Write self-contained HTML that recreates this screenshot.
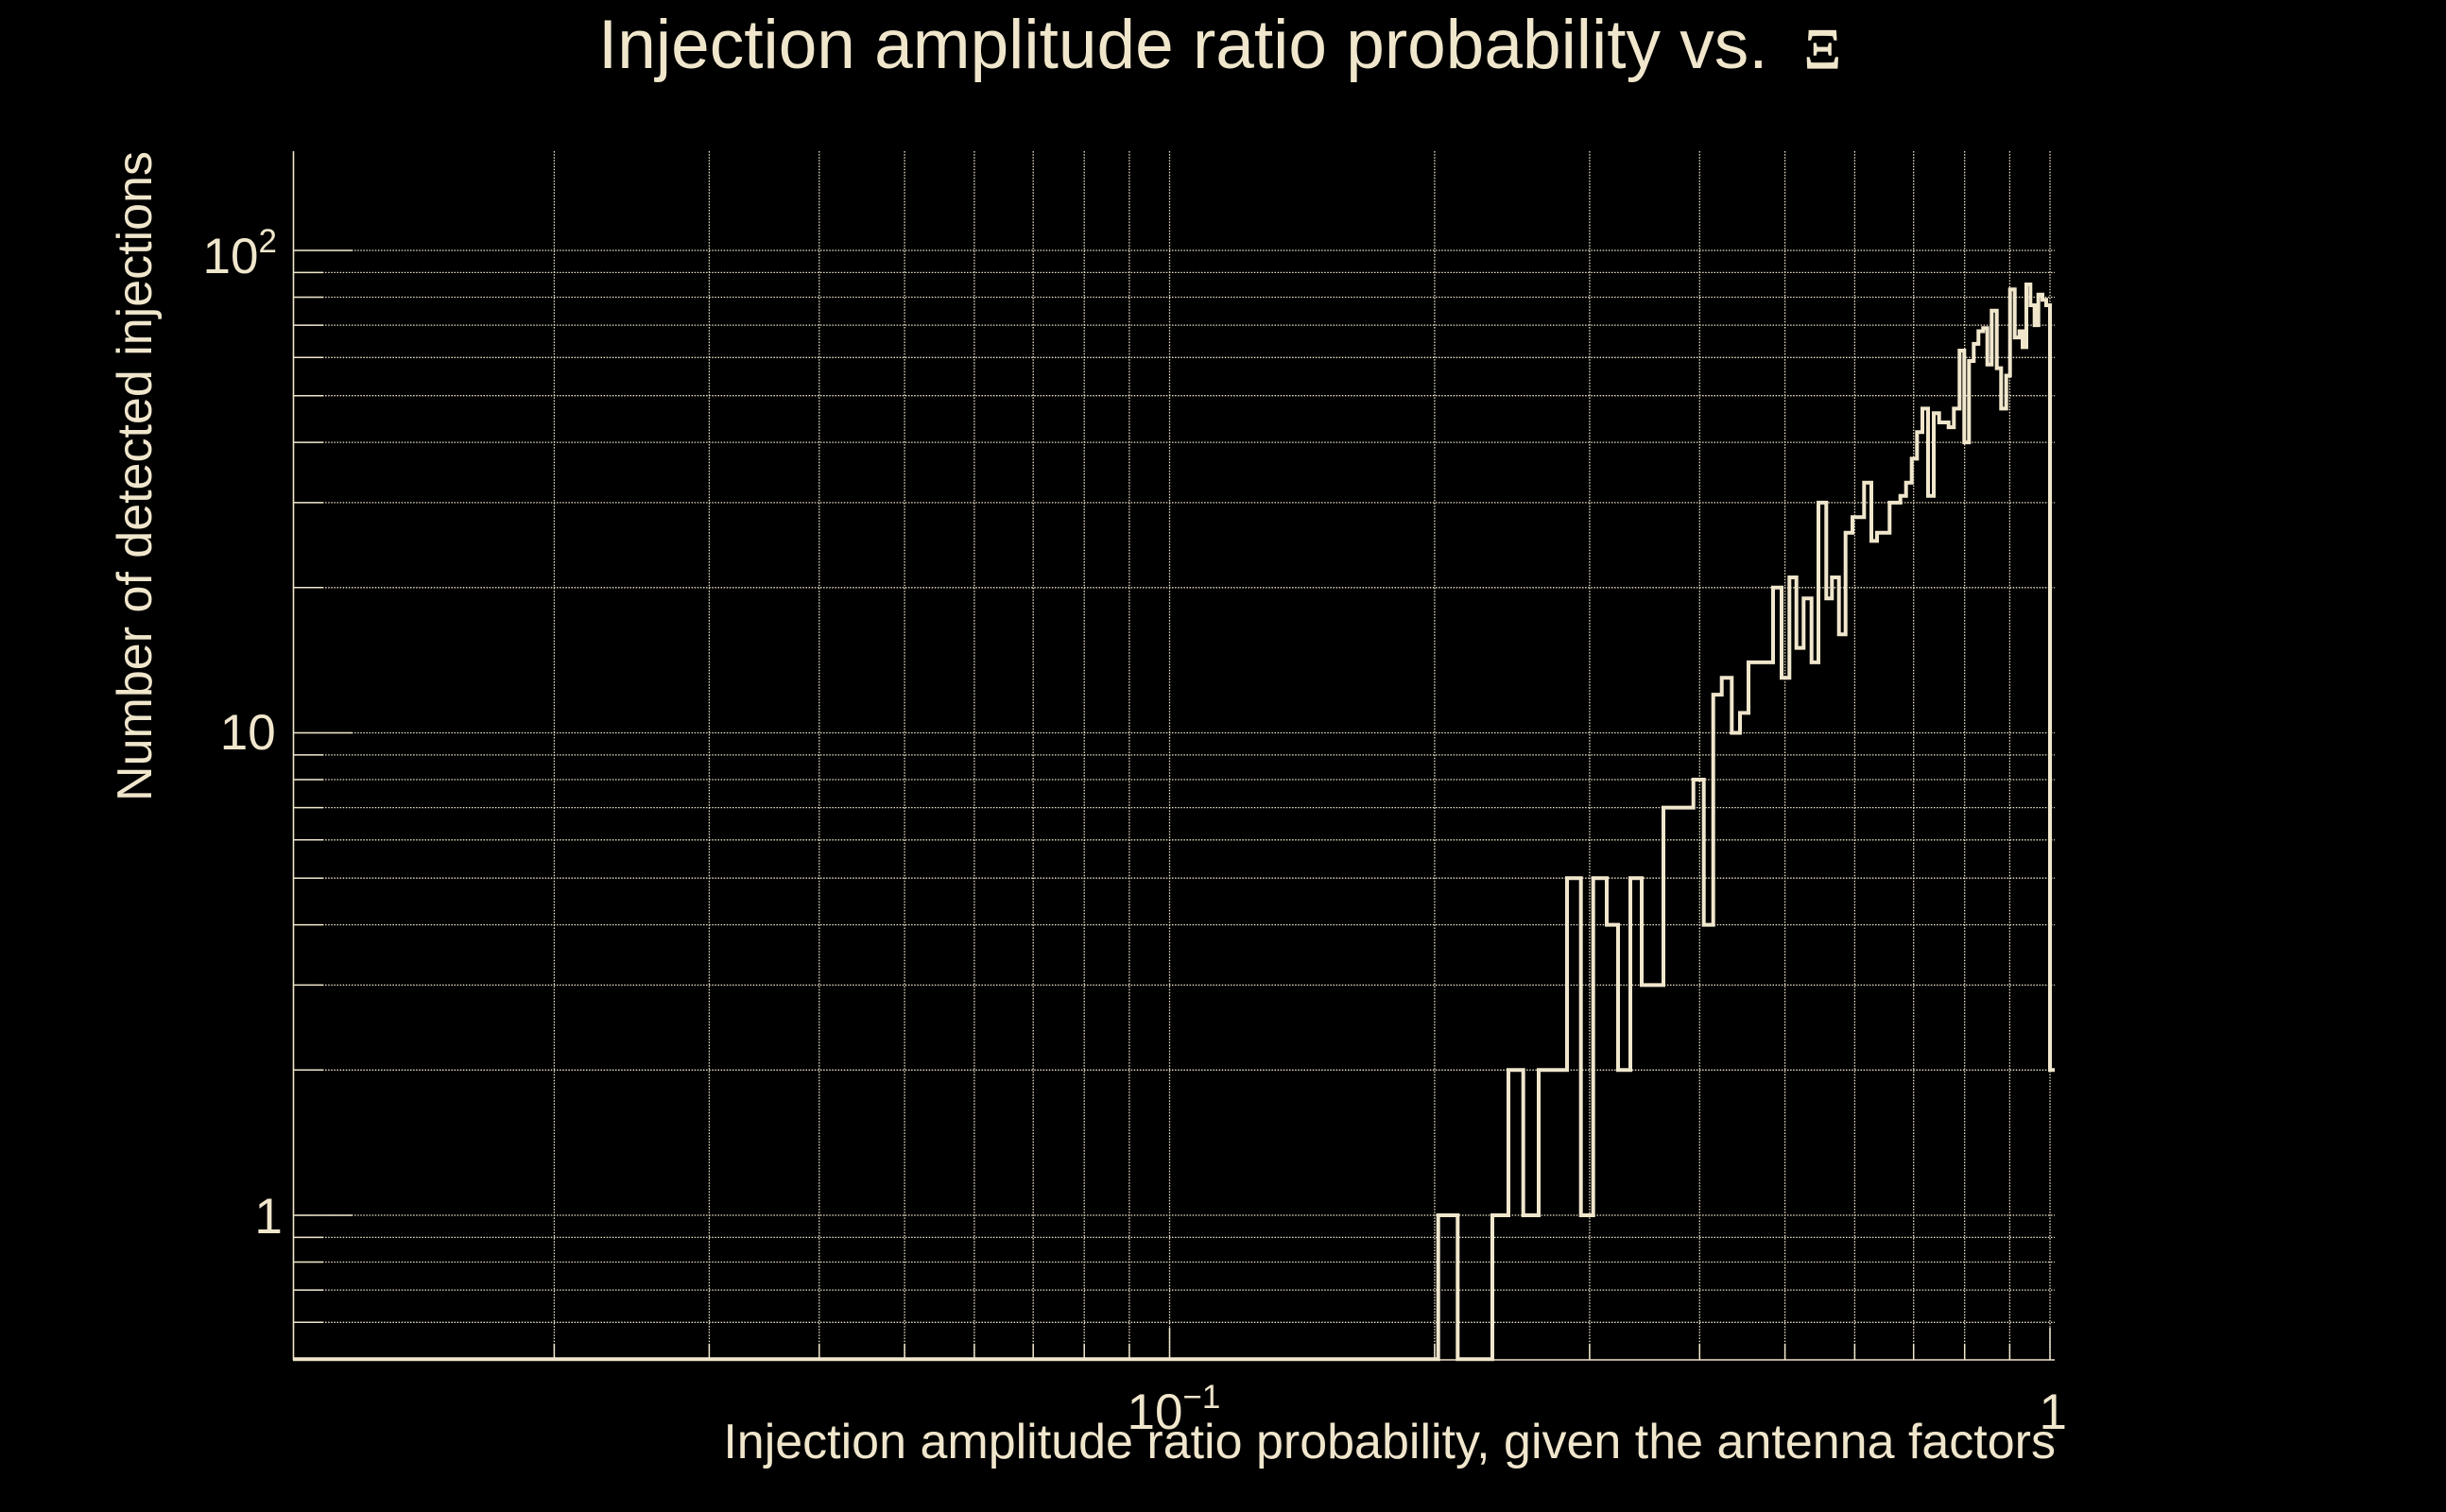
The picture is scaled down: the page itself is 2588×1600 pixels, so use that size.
<!DOCTYPE html>
<html>
<head>
<meta charset="utf-8">
<style>
html,body{margin:0;padding:0;background:#000;}
svg{display:block;}
text{font-family:"Liberation Sans",Arial,Helvetica,sans-serif;fill:#f0e6cc;}
</style>
</head>
<body>
<svg width="2588" height="1600" viewBox="0 0 2588 1600" xmlns="http://www.w3.org/2000/svg">
<rect x="0" y="0" width="2588" height="1600" fill="#000"/>

<g stroke="#f0e6cc" stroke-width="1.3" stroke-dasharray="1.5 1.6" fill="none">
<line x1="586.4" y1="160" x2="586.4" y2="1439"/>
<line x1="750.4" y1="160" x2="750.4" y2="1439"/>
<line x1="866.8" y1="160" x2="866.8" y2="1439"/>
<line x1="957.1" y1="160" x2="957.1" y2="1439"/>
<line x1="1030.9" y1="160" x2="1030.9" y2="1439"/>
<line x1="1093.2" y1="160" x2="1093.2" y2="1439"/>
<line x1="1147.2" y1="160" x2="1147.2" y2="1439"/>
<line x1="1194.9" y1="160" x2="1194.9" y2="1439"/>
<line x1="1237.5" y1="160" x2="1237.5" y2="1439"/>
<line x1="1517.9" y1="160" x2="1517.9" y2="1439"/>
<line x1="1681.9" y1="160" x2="1681.9" y2="1439"/>
<line x1="1798.3" y1="160" x2="1798.3" y2="1439"/>
<line x1="1888.6" y1="160" x2="1888.6" y2="1439"/>
<line x1="1962.4" y1="160" x2="1962.4" y2="1439"/>
<line x1="2024.7" y1="160" x2="2024.7" y2="1439"/>
<line x1="2078.7" y1="160" x2="2078.7" y2="1439"/>
<line x1="2126.4" y1="160" x2="2126.4" y2="1439"/>
<line x1="2169" y1="160" x2="2169" y2="1439"/>
</g>

<g stroke="#f0e6cc" stroke-width="1.3" stroke-dasharray="1.5 1.6" fill="none">
<line x1="310" y1="1399.3" x2="2174" y2="1399.3"/>
<line x1="310" y1="1365.1" x2="2174" y2="1365.1"/>
<line x1="310" y1="1335.5" x2="2174" y2="1335.5"/>
<line x1="310" y1="1309.4" x2="2174" y2="1309.4"/>
<line x1="310" y1="1286" x2="2174" y2="1286"/>
<line x1="310" y1="1132.3" x2="2174" y2="1132.3"/>
<line x1="310" y1="1042.4" x2="2174" y2="1042.4"/>
<line x1="310" y1="978.6" x2="2174" y2="978.6"/>
<line x1="310" y1="929.2" x2="2174" y2="929.2"/>
<line x1="310" y1="888.8" x2="2174" y2="888.8"/>
<line x1="310" y1="854.6" x2="2174" y2="854.6"/>
<line x1="310" y1="825.0" x2="2174" y2="825.0"/>
<line x1="310" y1="798.9" x2="2174" y2="798.9"/>
<line x1="310" y1="775.5" x2="2174" y2="775.5"/>
<line x1="310" y1="621.8" x2="2174" y2="621.8"/>
<line x1="310" y1="531.9" x2="2174" y2="531.9"/>
<line x1="310" y1="468.1" x2="2174" y2="468.1"/>
<line x1="310" y1="418.7" x2="2174" y2="418.7"/>
<line x1="310" y1="378.3" x2="2174" y2="378.3"/>
<line x1="310" y1="344.1" x2="2174" y2="344.1"/>
<line x1="310" y1="314.5" x2="2174" y2="314.5"/>
<line x1="310" y1="288.4" x2="2174" y2="288.4"/>
<line x1="310" y1="265" x2="2174" y2="265"/>
</g>

<g stroke="#f0e6cc" stroke-width="1.5" fill="none">
<line x1="310" y1="1286" x2="373" y2="1286"/>
<line x1="310" y1="775.5" x2="373" y2="775.5"/>
<line x1="310" y1="265" x2="373" y2="265"/>
<line x1="310" y1="1399.3" x2="342" y2="1399.3"/>
<line x1="310" y1="1365.1" x2="342" y2="1365.1"/>
<line x1="310" y1="1335.5" x2="342" y2="1335.5"/>
<line x1="310" y1="1309.4" x2="342" y2="1309.4"/>
<line x1="310" y1="1132.3" x2="342" y2="1132.3"/>
<line x1="310" y1="1042.4" x2="342" y2="1042.4"/>
<line x1="310" y1="978.6" x2="342" y2="978.6"/>
<line x1="310" y1="929.2" x2="342" y2="929.2"/>
<line x1="310" y1="888.8" x2="342" y2="888.8"/>
<line x1="310" y1="854.6" x2="342" y2="854.6"/>
<line x1="310" y1="825.0" x2="342" y2="825.0"/>
<line x1="310" y1="798.9" x2="342" y2="798.9"/>
<line x1="310" y1="621.8" x2="342" y2="621.8"/>
<line x1="310" y1="531.9" x2="342" y2="531.9"/>
<line x1="310" y1="468.1" x2="342" y2="468.1"/>
<line x1="310" y1="418.7" x2="342" y2="418.7"/>
<line x1="310" y1="378.3" x2="342" y2="378.3"/>
<line x1="310" y1="344.1" x2="342" y2="344.1"/>
<line x1="310" y1="314.5" x2="342" y2="314.5"/>
<line x1="310" y1="288.4" x2="342" y2="288.4"/>
</g>

<g stroke="#f0e6cc" stroke-width="1.5" fill="none">
<line x1="1237.5" y1="1405" x2="1237.5" y2="1439"/>
<line x1="2169" y1="1405" x2="2169" y2="1439"/>
<line x1="586.4" y1="1422" x2="586.4" y2="1439"/>
<line x1="750.4" y1="1422" x2="750.4" y2="1439"/>
<line x1="866.8" y1="1422" x2="866.8" y2="1439"/>
<line x1="957.1" y1="1422" x2="957.1" y2="1439"/>
<line x1="1030.9" y1="1422" x2="1030.9" y2="1439"/>
<line x1="1093.2" y1="1422" x2="1093.2" y2="1439"/>
<line x1="1147.2" y1="1422" x2="1147.2" y2="1439"/>
<line x1="1194.9" y1="1422" x2="1194.9" y2="1439"/>
<line x1="1517.9" y1="1422" x2="1517.9" y2="1439"/>
<line x1="1681.9" y1="1422" x2="1681.9" y2="1439"/>
<line x1="1798.3" y1="1422" x2="1798.3" y2="1439"/>
<line x1="1888.6" y1="1422" x2="1888.6" y2="1439"/>
<line x1="1962.4" y1="1422" x2="1962.4" y2="1439"/>
<line x1="2024.7" y1="1422" x2="2024.7" y2="1439"/>
<line x1="2078.7" y1="1422" x2="2078.7" y2="1439"/>
<line x1="2126.4" y1="1422" x2="2126.4" y2="1439"/>
</g>

<g stroke="#f0e6cc" stroke-width="1.6" fill="none">
<line x1="310.5" y1="160" x2="310.5" y2="1439.5"/>
<line x1="310" y1="1439" x2="2174" y2="1439"/>
</g>

<path fill="none" stroke="#f0e6cc" stroke-width="4" stroke-linejoin="miter" d="M 310 1438.3 H 1521.7 V 1286 H 1542.3 V 1438.3 H 1579 V 1286 H 1596 V 1132.3 H 1611.7 V 1286 H 1628 V 1132.3 H 1658 V 929.2 H 1672.7 V 1286 H 1685.7 V 929.2 H 1700 V 978.6 H 1712 V 1132.3 H 1725 V 929.2 H 1737 V 1042.4 H 1760 V 854.6 H 1791.7 V 825.0 H 1802.7 V 978.6 H 1812.7 V 735.1 H 1821.7 V 717.3 H 1832.3 V 775.5 H 1841 V 754.4 H 1850 V 700.9 H 1876 V 621.8 H 1885 V 717.3 H 1893.3 V 611.0 H 1900.7 V 685.6 H 1908.3 V 633.2 H 1916.7 V 700.9 H 1924 V 531.9 H 1932.3 V 633.2 H 1938.3 V 611.0 H 1945.7 V 671.3 H 1952.7 V 563.7 H 1960 V 547.2 H 1972.3 V 510.8 H 1980 V 572.4 H 1986 V 563.7 H 1999.3 V 531.9 H 2010.7 V 524.7 H 2016.7 V 510.8 H 2022.7 V 485.4 H 2028.3 V 457.3 H 2034 V 432.4 H 2040 V 524.7 H 2046 V 437.2 H 2051.7 V 447.0 H 2061.7 V 452.1 H 2067.3 V 432.4 H 2073.3 V 371.0 H 2078.3 V 468.1 H 2083.3 V 382.0 H 2088.3 V 363.9 H 2093.3 V 350.5 H 2098.3 V 347.3 H 2102.7 V 385.8 H 2107.3 V 328.8 H 2112.7 V 389.6 H 2117.3 V 432.4 H 2122.7 V 397.5 H 2126.7 V 306.3 H 2131.7 V 357.1 H 2136.7 V 350.5 H 2140 V 367.4 H 2144 V 301.0 H 2148.3 V 323.0 H 2152.7 V 344.1 H 2156.7 V 311.7 H 2161 V 317.3 H 2165 V 323.0 H 2169 V 1132.3 H 2174"/>

<text x="633" y="72" font-size="73">Injection amplitude ratio probability vs.</text>
<text x="1909" y="72" font-size="60" stroke="#f0e6cc" stroke-width="1.2" style="font-family:'Liberation Serif','Times New Roman',serif;">Ξ</text>

<text x="214.5" y="289" font-size="53">10<tspan font-size="35" dy="-22">2</tspan></text>
<text x="232.8" y="793" font-size="53">10</text>
<text x="269.4" y="1305" font-size="53">1</text>

<text x="1192.5" y="1512" font-size="53">10<tspan font-size="35" dy="-22">−1</tspan></text>
<text x="2157.5" y="1512" font-size="53">1</text>

<text x="2175" y="1543" font-size="52" text-anchor="end">Injection amplitude ratio probability, given the antenna factors</text>
<text transform="translate(160,160) rotate(-90)" font-size="52" text-anchor="end">Number of detected injections</text>
</svg>
</body>
</html>
